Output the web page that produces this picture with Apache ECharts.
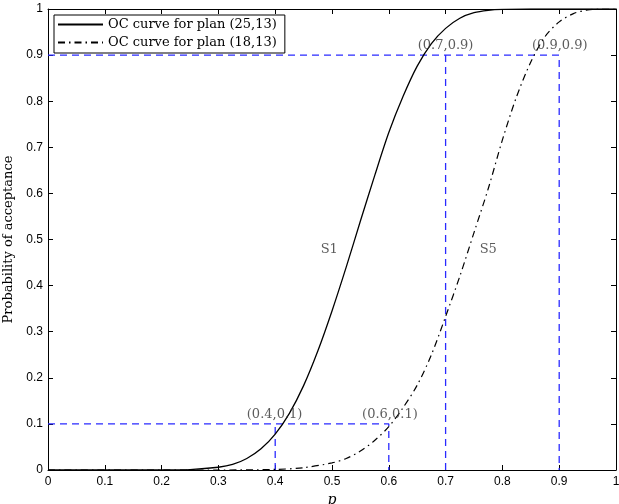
<!DOCTYPE html>
<html>
<head>
<meta charset="utf-8">
<script src="https://cdn.jsdelivr.net/npm/echarts@6/dist/echarts.min.js"></script>
<style>
  html, body { margin: 0; padding: 0; background: #fff; }
  #main { width: 619px; height: 504px; }
</style>
</head>
<body>
<div id="main"></div>
<script>
// p values and acceptance probabilities
var pS1 = [0, 0.1, 0.2, 0.25, 0.3, 0.325, 0.35, 0.375, 0.4, 0.425, 0.45, 0.475, 0.5, 0.525, 0.55, 0.575, 0.6, 0.625, 0.65, 0.675, 0.7, 0.725, 0.75, 0.775, 0.8, 0.85, 0.9, 1];
var paS1 = [0, 0, 0.0001, 0.001, 0.006, 0.012, 0.025, 0.046, 0.078, 0.123, 0.183, 0.258, 0.345, 0.44, 0.54, 0.638, 0.732, 0.81, 0.876, 0.925, 0.958, 0.98, 0.992, 0.997, 0.999, 1, 1, 1];

var pS5 = [0, 0.2, 0.3, 0.4, 0.45, 0.5, 0.525, 0.55, 0.575, 0.6, 0.625, 0.65, 0.675, 0.7, 0.725, 0.75, 0.775, 0.8, 0.825, 0.85, 0.875, 0.9, 0.925, 0.95, 0.975, 1];
var paS5 = [0, 0, 0, 0.0013, 0.005, 0.0154, 0.025, 0.041, 0.064, 0.094, 0.135, 0.184, 0.25, 0.333, 0.42, 0.515, 0.61, 0.716, 0.81, 0.885, 0.94, 0.972, 0.99, 0.998, 1, 1];

// dashed guide lines (x, y pairs)
var guideLow = [[0, 0.1], [0.6, 0.1], [0.6, 0]];
var guideLow2 = [[0.4, 0], [0.4, 0.1]];
var guideHigh = [[0, 0.9], [0.9, 0.9], [0.9, 0]];
var guideHigh2 = [[0.7, 0], [0.7, 0.9]];

// text annotations: x, y, text
var notes = [
  [0.35, 0.12, '(0.4,0.1)'],
  [0.553, 0.12, '(0.6,0.1)'],
  [0.651, 0.92, '(0.7,0.9)'],
  [0.852, 0.92, '(0.9,0.9)'],
  [0.48, 0.477, 'S1'],
  [0.76, 0.477, 'S5']
];

var legendNames = ['OC curve for plan (25,13)', 'OC curve for plan (18,13)'];

function pairs(xs, ys) {
  var out = [];
  for (var i = 0; i < xs.length; i++) out.push([xs[i], ys[i]]);
  return out;
}

var chart = echarts.init(document.getElementById('main'));
var serif = 'DejaVu Serif';
var sans = 'Liberation Sans';
var blue = '#2a2aff';

var axisCommon = {
  type: 'value',
  min: 0,
  max: 1,
  interval: 0.1,
  splitLine: { show: false },
  axisLine: { show: true, onZero: false, lineStyle: { color: '#000', width: 1 } },
  axisTick: { show: true, inside: true, length: 5, lineStyle: { color: '#000' } }
};

option = {
  animation: false,
  backgroundColor: '#fff',
  grid: { left: 48, right: 3, top: 9, bottom: 34, containLabel: false, outerBoundsMode: 'none' },
  legend: {
    data: legendNames,
    orient: 'vertical',
    left: 54,
    top: 15,
    padding: [3, 8, 4, 3],
    itemGap: 5,
    itemWidth: 45,
    itemHeight: 14,
    borderColor: '#000',
    borderWidth: 1,
    borderRadius: 0,
    backgroundColor: '#fff',
    itemStyle: { opacity: 0 },
    textStyle: { fontFamily: serif, fontSize: 13, color: '#000' }
  },
  xAxis: [
    Object.assign({}, axisCommon, {
      position: 'bottom',
      name: 'p',
      nameLocation: 'middle',
      nameGap: 18,
      nameTextStyle: { fontFamily: serif, fontStyle: 'italic', fontSize: 14, color: '#000' },
      axisLabel: { margin: 6, fontFamily: sans, fontSize: 12, color: '#000' }
    }),
    Object.assign({}, axisCommon, { position: 'top', axisLabel: { show: false } })
  ],
  yAxis: [
    Object.assign({}, axisCommon, {
      position: 'left',
      name: 'Probability of acceptance',
      nameLocation: 'middle',
      nameGap: 29,
      nameTextStyle: { fontFamily: serif, fontSize: 13, color: '#000' },
      axisLabel: { margin: 5, fontFamily: sans, fontSize: 12, color: '#000' }
    }),
    Object.assign({}, axisCommon, { position: 'right', axisLabel: { show: false } })
  ],
  series: [
    {
      name: 'guide1', type: 'line', data: guideLow, symbol: 'none', silent: true,
      lineStyle: { color: blue, width: 1.3, type: [7, 5] }, z: 1
    },
    {
      name: 'guide2', type: 'line', data: guideLow2, symbol: 'none', silent: true,
      lineStyle: { color: blue, width: 1.3, type: [7, 5] }, z: 1
    },
    {
      name: 'guide3', type: 'line', data: guideHigh, symbol: 'none', silent: true,
      lineStyle: { color: blue, width: 1.3, type: [7, 5] }, z: 1
    },
    {
      name: 'guide4', type: 'line', data: guideHigh2, symbol: 'none', silent: true,
      lineStyle: { color: blue, width: 1.3, type: [7, 5] }, z: 1
    },
    {
      name: legendNames[0], type: 'line', data: pairs(pS1, paS1), symbol: 'none', smooth: 0.3,
      lineStyle: { color: '#000', width: 1.3, type: 'solid' }, itemStyle: { color: '#000' }, z: 3
    },
    {
      name: legendNames[1], type: 'line', data: pairs(pS5, paS5), symbol: 'none', smooth: 0.3,
      lineStyle: { color: '#000', width: 1.2, type: [7, 4, 1.5, 4] }, itemStyle: { color: '#000' }, z: 3
    },
    {
      name: 'notes', type: 'scatter', symbolSize: 0, silent: true, z: 4,
      data: notes.map(function (n) { return { value: [n[0], n[1]], name: n[2] }; }),
      label: {
        show: true, position: 'right', distance: 0,
        formatter: function (d) { return d.name; },
        fontFamily: serif, fontSize: 13, color: '#333'
      }
    }
  ]
};
chart.setOption(option);
</script>
</body>
</html>
